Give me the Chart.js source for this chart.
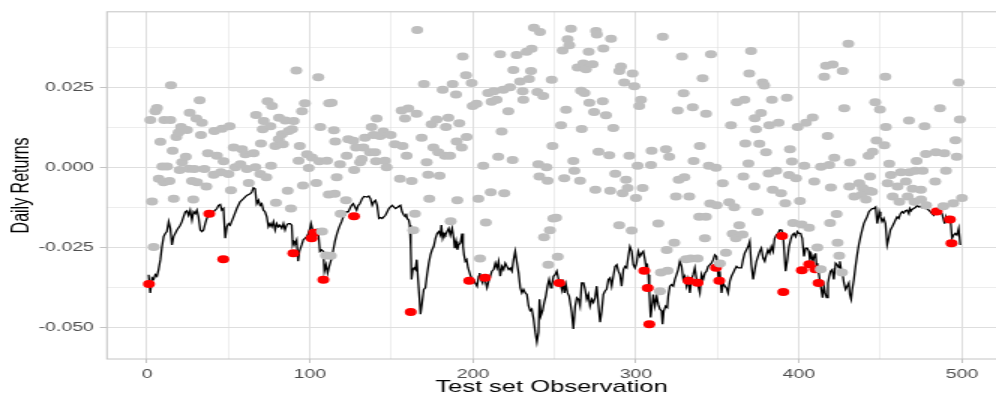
<!DOCTYPE html>
<html>
<head>
<meta charset="utf-8">
<script src="https://cdn.jsdelivr.net/npm/chart.js@4.4.1/dist/chart.umd.min.js"></script>
<style>
  html, body { margin: 0; padding: 0; background: #fff; overflow: hidden; }
</style>
</head>
<body>
<!-- drawn at 664 wide and stretched to 996, like the reference picture -->
<canvas id="chart" width="664" height="399" style="display:block;width:996px;height:399px"></canvas>
<script>
// daily returns that stayed above the VaR line (grey)
const returnObs = [
  2.0, 3.1, 4.1, 5.1, 6.1, 7.2, 8.2, 9.4, 10.2, 10.6, 12.3, 13.8, 14.3, 14.7, 15.7, 16.4, 18.0, 19.4, 20.0, 20.9,
  21.5, 23.8, 24.5, 25.6, 26.2, 27.6, 28.4, 29.0, 30.3, 30.7, 32.3, 33.1, 33.7, 35.2, 36.4, 37.4, 40.9, 41.3, 42.9, 45.3,
  46.0, 47.0, 50.0, 50.7, 51.5, 53.2, 54.2, 57.3, 58.3, 60.3, 61.3, 62.4, 65.4, 66.5, 66.9, 69.5, 69.9, 71.0, 71.6, 73.2,
  74.0, 75.7, 76.1, 76.7, 78.7, 79.1, 80.8, 81.0, 82.8, 83.4, 84.9, 86.3, 86.9, 88.3, 89.0, 90.0, 91.6, 93.0, 93.7, 95.1,
  95.7, 96.9, 98.2, 99.2, 101.2, 103.9, 105.1, 105.7, 106.3, 107.4, 109.8, 110.4, 111.5, 111.7,
  112.8, 113.3, 114.7, 115.2, 115.5, 116.4, 118.4, 118.8, 122.1, 122.5, 123.5, 126.6, 127.1, 128.2, 130.7, 131.8, 132.7, 133.7, 136.8, 137.8,
  138.9, 139.9, 140.5, 140.9, 143.0, 145.0, 146.0, 147.0, 149.5, 152.1, 155.2, 156.2, 156.8, 158.3, 159.3, 160.3, 162.4, 163.4, 164.4, 165.4,
  165.8, 168.5, 169.9, 171.6, 172.5, 173.2, 174.6, 175.7, 177.7, 178.7, 179.5, 181.4, 182.8, 183.4, 184.9, 185.9, 186.3, 187.5, 189.6, 190.0,
  190.4, 191.6, 193.1, 193.7, 195.7, 196.1, 199.2, 199.8, 202.2, 203.3, 204.3, 206.3, 207.9, 209.3, 210.9, 211.4, 212.8, 214.5, 215.5, 216.6,
  217.6, 218.6, 219.2, 221.7, 222.7, 224.3, 224.8, 226.8, 228.9, 230.5, 230.9, 232.9, 234.4, 235.6, 236.0, 237.4, 239.5, 240.1, 240.7, 241.1,
  243.1, 243.6, 245.1, 245.8, 246.2, 247.2, 248.3, 248.8, 249.3,
  251.0, 252.0, 254.0, 255.0, 256.0, 257.1, 258.1, 259.1, 260.1, 261.6, 262.2, 264.2, 265.7, 266.3, 266.7, 267.7, 268.4, 269.3, 271.0, 271.4,
  273.4, 274.3, 275.1, 275.5, 276.0, 277.0, 279.6, 280.0, 281.6, 283.6, 284.2, 284.7, 286.1, 287.3, 289.7, 289.8, 290.8, 291.8, 292.8, 293.9,
  294.9, 295.9, 297.4, 297.9, 299.0, 300.0, 301.0, 302.0, 303.1, 304.1, 309.2, 309.6, 313.7, 314.7, 315.3, 316.4, 318.4, 318.9, 319.4, 320.4,
  323.5, 324.5, 325.6, 326.2, 328.2, 329.2, 329.7, 330.7, 332.7, 333.7, 334.8, 335.4, 337.8, 338.8, 339.2, 340.9, 342.3, 342.9, 343.0, 344.7,
  345.5, 346.0, 349.1, 349.5, 351.5, 353.2, 355.2, 357.2, 358.3, 359.3, 360.3, 361.3, 361.8, 363.4, 365.4, 365.9, 366.5, 367.1, 369.0, 369.5,
  370.6, 372.6, 372.9, 373.6, 374.6, 375.7, 376.7, 377.7, 378.7, 379.8, 381.4, 381.8, 383.4, 383.9, 386.1, 387.5, 389.0, 391.6, 392.6, 393.9,
  394.5, 395.7, 396.4, 398.2, 399.2, 400.6, 401.7, 403.3, 404.3, 406.2, 408.4, 409.4, 411.3, 413.4, 413.5, 415.5, 416.6, 417.6, 418.6, 419.1,
  419.6, 420.7, 421.7, 423.1, 423.7, 424.7, 426.4, 426.8, 427.8, 430.3, 430.9, 431.3, 433.9, 437.0, 438.6, 439.1, 441.1, 442.7, 443.1, 443.6,
  444.8, 445.2, 446.8, 447.6, 449.7, 452.4, 453.0, 453.3, 454.4, 455.4, 456.4, 457.5, 460.5, 461.6, 462.6, 465.6, 466.7, 467.5, 467.7, 469.7,
  470.8, 471.5, 472.2, 474.8, 474.9, 475.9, 477.1, 477.9, 478.0, 483.6, 484.0, 486.5, 488.6, 489.2, 490.2, 494.7, 496.0, 496.8, 498.0, 498.7,
  500.0
];
const returnVal = [
  0.0149, -0.0106, -0.0248, 0.0177, 0.0187, -0.0035, 0.0081, 0.0004, -0.0046, 0.0149, 0.0004, -0.0042, 0.0149, 0.0258, 0.0053, -0.0097, 0.0096, 0.0110, -0.0007, 0.0127,
  0.0017, 0.0034, 0.0118, -0.0003, 0.0172, -0.0042, -0.0100, -0.0004, 0.0154, -0.0046, 0.0211, 0.0102, 0.0141, -0.0004, -0.0059, 0.0045, -0.0022, 0.0115, 0.0037, -0.0014,
  0.0122, 0.0020, -0.0020, 0.0130, -0.0071, 0.0063, 0.0001, 0.0011, 0.0058, 0.0042, -0.0004, -0.0048, 0.0045, 0.0001, 0.0165, -0.0020, 0.0076, 0.0120, 0.0146, -0.0030,
  0.0208, 0.0130, 0.0006, 0.0193, 0.0068, -0.0110, 0.0089, 0.0156, 0.0105, 0.0073, 0.0148, -0.0072, 0.0115, -0.0128, 0.0120, 0.0146, 0.0304, 0.0022, 0.0068, 0.0177,
  -0.0056, 0.0202, 0.0042, -0.0001, 0.0032, -0.0048, 0.0283, 0.0020, 0.0127, -0.0200, -0.0275, 0.0022, -0.0084, 0.0202,
  -0.0276, 0.0203, 0.0117, -0.0082, 0.0082, -0.0030, 0.0011, -0.0144, -0.0102, 0.0037, 0.0089, 0.0084, -0.0007, 0.0063, 0.0017, 0.0027, 0.0063, 0.0094, 0.0048, 0.0127,
  0.0102, 0.0048, 0.0020, 0.0154, 0.0099, 0.0113, 0.0022, 0.0001, 0.0102, 0.0073, -0.0035, 0.0179, 0.0068, 0.0154, 0.0037, 0.0185, -0.0042, -0.0196, -0.0144, 0.0169,
  0.0431, 0.0094, 0.0262, 0.0017, -0.0022, -0.0097, 0.0136, 0.0063, 0.0151, 0.0048, -0.0025, 0.0244, 0.0037, 0.0127, 0.0156, 0.0037, -0.0168, 0.0262, 0.0229, 0.0082,
  -0.0102, 0.0139, 0.0063, 0.0348, 0.0289, 0.0096, 0.0265, 0.0193, 0.0200, -0.0097, -0.0284, 0.0006, -0.0172, 0.0234, -0.0077, 0.0206, 0.0239, 0.0213, 0.0034, 0.0355,
  0.0113, 0.0244, -0.0080, 0.0177, 0.0252, 0.0024, 0.0306, 0.0353, 0.0270, 0.0239, 0.0213, 0.0363, 0.0278, 0.0303, 0.0372, 0.0438, 0.0237, 0.0011, -0.0028, 0.0425,
  0.0224, -0.0218, 0.0001, -0.0041, -0.0304, -0.0196, 0.0275, 0.0068, -0.0159,
  -0.0157, -0.0279, 0.0133, 0.0367, -0.0033, 0.0181, 0.0402, 0.0383, 0.0435, 0.0021, -0.0010, 0.0314, -0.0041, 0.0241, 0.0121, 0.0326, 0.0234, 0.0308, 0.0363, 0.0203,
  0.0324, 0.0174, -0.0069, 0.0428, 0.0417, 0.0050, 0.0208, 0.0373, 0.0164, 0.0039, -0.0072, 0.0404, 0.0124, -0.0019, -0.0180, 0.0303, 0.0317, -0.0080, 0.0267, -0.0038,
  -0.0064, 0.0037, -0.0197, 0.0295, 0.0255, -0.0095, 0.0006, 0.0193, 0.0213, -0.0064, 0.0008, 0.0053, -0.0175, -0.0387, -0.0328, 0.0410, 0.0058, -0.0258, -0.0323, 0.0034,
  -0.0235, -0.0090, 0.0179, -0.0038, 0.0348, 0.0233, -0.0030, -0.0287, -0.0090, -0.0284, 0.0189, 0.0021, -0.0284, -0.0154, 0.0068, 0.0280, -0.0221, -0.0154, 0.0169, 0.0006,
  -0.0112, 0.0355, 0.0000, -0.0118, -0.0300, -0.0049, -0.0266, -0.0108, 0.0133, -0.0207, -0.0124, -0.0221, 0.0205, -0.0180, -0.0209, -0.0028, 0.0213, 0.0076, 0.0013, 0.0295,
  0.0365, -0.0059, 0.0155, 0.0120, -0.0139, 0.0075, 0.0171, 0.0267, 0.0257, 0.0048, -0.0018, 0.0133, 0.0213, -0.0069, -0.0010, 0.0141, -0.0080, -0.0111, 0.0219, -0.0023,
  0.0058, 0.0019, -0.0173, -0.0033, 0.0127, -0.0104, -0.0178, 0.0006, 0.0141, -0.0188, 0.0157, -0.0043, -0.0250, -0.0318, 0.0003, 0.0285, 0.0319, 0.0099, 0.0008, -0.0173,
  -0.0062, 0.0323, 0.0031, -0.0145, -0.0235, -0.0276, -0.0328, 0.0303, 0.0186, 0.0388, -0.0059, 0.0016, -0.0090, -0.0049, -0.0085, -0.0064, -0.0100, 0.0037, -0.0072, -0.0028,
  -0.0075, 0.0050, 0.0205, 0.0085, 0.0182, 0.0070, 0.0285, 0.0127, -0.0049, 0.0012, -0.0023, -0.0090, -0.0059, -0.0107, -0.0014, -0.0043, -0.0090, 0.0148, -0.0014, -0.0066,
  -0.0107, -0.0010, 0.0021, -0.0069, -0.0100, -0.0010, 0.0130, 0.0043, -0.0118, -0.0043, 0.0048, 0.0186, -0.0121, 0.0045, -0.0010, -0.0111, 0.0086, 0.0034, 0.0267, 0.0151,
  -0.0095
];

// days where the return fell below the VaR estimate (red)
const breachObs = [1.2, 38.2, 46.8, 89.8, 101.0, 102.5, 108.2, 127.0, 161.8, 197.7, 207.4, 253.0, 305.1, 307.2,
  308.2, 332.3, 337.8, 349.1, 351.1, 389.6, 390.4, 401.8, 406.3, 410.0, 412.0, 484.5, 492.6, 493.6];
const breachVal = [-0.0364, -0.0144, -0.0287, -0.0268, -0.0221, -0.0204, -0.0351, -0.0152, -0.0452, -0.0354, -0.0345, -0.0361, -0.0323, -0.0377,
  -0.0490, -0.0354, -0.0360, -0.0313, -0.0354, -0.0214, -0.0389, -0.0321, -0.0302, -0.0318, -0.0361, -0.0137, -0.0162, -0.0237];

// VaR estimate (black line)
const lineObs = [
  1, 2, 3.1, 4.1, 5.1, 6.1, 7.1, 8.2, 9.2, 10.2, 11.2, 12.2, 13.3, 14.3, 15.3, 16.3, 18.4, 20.4, 21.4, 22.4,
  23.5, 24.5, 25.5, 26.5, 27.6, 28.6, 29.6, 30.6, 31.6, 32.7, 33.7, 34.7, 35.7, 36.7, 37.8, 38.8, 40.8, 42.9, 43.9, 44.9,
  45.9, 46.9, 48.0, 49.0, 50.0, 51.0, 53.1, 55.1, 57.1, 59.2, 61.2, 63.3, 64.3, 65.3, 66.3, 67.3, 68.4, 69.4, 70.4, 71.4,
  72.4, 73.5, 74.5, 75.5, 76.5, 77.6, 78.6, 79.6, 80.6, 81.6, 82.7, 83.7, 84.7, 85.7, 86.7, 87.8, 88.8, 89.4, 90.2, 91.0,
  91.8, 92.7, 93.5, 94.9, 95.9, 96.9, 98.0, 99.0, 100.0, 100.6, 101.6, 103.1, 104.1, 105.1, 106.1, 107.1, 108.2, 108.8, 109.8, 110.8,
  111.8, 113.3, 114.3, 115.3, 116.3, 117.3, 118.4, 119.4, 120.4, 121.4, 122.4, 123.5, 124.5, 125.5, 126.5, 127.6, 128.6, 129.6, 130.6, 132.0,
  133.1, 135.1, 136.1, 137.1, 138.2, 139.2, 140.2, 141.2, 142.3, 143.3, 144.3, 146.3, 147.4, 148.4, 149.4, 150.4, 151.4, 152.5, 153.5, 154.5,
  155.5, 156.5, 157.6, 158.6, 159.0, 159.6, 160.6, 161.2, 161.8, 162.3, 163.1, 163.9, 164.7, 165.5, 166.3, 167.2, 167.8, 168.8, 169.8, 170.8,
  171.8, 172.9, 173.9, 174.9, 175.9, 177.0, 178.0, 179.0, 180.0, 180.6, 181.4, 182.3, 183.1, 184.1, 185.1, 186.1, 187.2, 188.2, 188.8, 189.6,
  190.4, 191.2, 192.3, 193.3, 193.9, 194.5, 195.3, 196.1, 197.0, 197.8, 198.6, 199.4, 200.4, 201.4, 202.5, 203.5, 204.1, 204.9, 205.9, 206.5,
  207.6, 208.6, 209.6, 210.6, 211.6, 212.7, 213.7, 214.7, 215.7, 216.7, 217.8, 218.8, 219.8, 220.8, 221.9, 222.9, 223.9, 224.9, 225.9, 227.0,
  228.0, 229.0, 230.0, 231.0, 232.1, 233.1, 234.1, 235.1, 236.1, 237.2, 238.2, 239.2, 240.2, 240.8, 241.6, 242.7, 243.7, 244.7, 245.7, 246.7,
  247.8, 248.4, 249.4, 250.4, 251.4, 252.5, 253.5, 254.5, 255.1, 256.1, 257.0, 258.0, 259.0, 260.6, 261.6, 262.7, 263.7, 264.7, 265.7, 266.7,
  267.8, 268.8, 269.8, 270.8, 271.8, 272.9, 273.9, 274.9, 275.9, 276.9, 278.0, 279.0, 280.0, 281.0, 282.0, 283.1, 284.1, 285.1, 286.1, 287.2,
  288.2, 289.2, 290.2, 291.2, 292.3, 293.3, 294.3, 295.3, 296.3, 297.4, 298.4, 299.4, 300.4, 301.4, 302.5, 303.5, 304.5, 305.5, 306.1, 306.9,
  307.6, 308.2, 309.0, 309.8, 310.6, 311.6, 312.7, 313.7, 314.7, 315.7, 316.3, 317.1, 318.2, 319.2, 319.8, 320.8, 321.8, 322.9, 323.9, 324.9,
  325.9, 326.9, 328.0, 329.0, 330.0, 331.0, 332.0, 333.1, 334.1, 335.1, 336.1, 337.2, 338.2, 339.2, 340.2, 341.2, 342.3, 343.3, 344.3, 345.3,
  346.3, 347.4, 348.4, 349.4, 350.0, 350.8, 351.4, 352.5, 353.5, 354.5, 355.5, 356.5, 357.6, 358.6, 359.6, 360.6, 361.7, 362.7, 363.7, 364.7,
  365.7, 366.7, 367.8, 368.8, 369.8, 370.8, 371.9, 372.9, 373.9, 374.9, 375.9, 376.9, 378.0, 379.0, 380.0, 381.0, 382.0, 383.1, 384.1, 385.1,
  386.1, 387.2, 388.2, 389.2, 390.2, 391.8, 392.9, 393.9, 394.9, 395.9, 396.9, 398.0, 399.0, 400.0, 401.0, 402.0, 403.1, 404.1, 405.1, 406.1,
  406.7, 407.6, 408.6, 409.6, 410.2, 410.8, 411.2, 411.8, 412.9, 413.7, 414.5, 415.3, 416.1, 417.0, 417.8, 418.6, 419.4, 420.4, 421.4, 422.5,
  423.5, 424.5, 425.1, 425.9, 426.7, 427.6, 428.6, 429.6, 430.6, 431.2, 432.0, 432.7, 433.7, 434.7, 435.7, 436.7, 437.8, 438.8, 439.8, 440.8,
  441.8, 442.9, 443.9, 444.9, 445.9, 447.0, 448.0, 448.6, 449.2, 450.0, 451.0, 452.0, 453.1, 454.1, 455.1, 456.1, 457.2, 458.2, 459.2, 460.2,
  461.2, 462.3, 463.3, 464.3, 465.3, 466.3, 467.4, 468.0, 468.8, 469.4, 470.4, 471.4, 472.5, 473.5, 474.5, 475.5, 476.5, 477.6, 478.6, 479.6,
  480.6, 481.6, 482.7, 483.7, 484.7, 485.7, 486.7, 487.8, 488.8, 489.4, 490.2, 490.8, 491.8, 492.9, 493.9, 494.9, 495.9, 496.9, 498.0, 499.0
];
const lineVaR = [
  -0.0335, -0.0392, -0.0345, -0.0350, -0.0335, -0.0340, -0.0319, -0.0288, -0.0247, -0.0216, -0.0206, -0.0200, -0.0169, -0.0190, -0.0242, -0.0216, -0.0195, -0.0180, -0.0169, -0.0154,
  -0.0138, -0.0135, -0.0149, -0.0133, -0.0164, -0.0138, -0.0144, -0.0133, -0.0154, -0.0195, -0.0200, -0.0195, -0.0175, -0.0159, -0.0149, -0.0144, -0.0138, -0.0128, -0.0118, -0.0115,
  -0.0133, -0.0128, -0.0221, -0.0185, -0.0175, -0.0180, -0.0154, -0.0128, -0.0107, -0.0097, -0.0087, -0.0082, -0.0076, -0.0063, -0.0066, -0.0113, -0.0102, -0.0118, -0.0113, -0.0133,
  -0.0138, -0.0154, -0.0185, -0.0175, -0.0185, -0.0169, -0.0195, -0.0175, -0.0185, -0.0180, -0.0190, -0.0175, -0.0195, -0.0180, -0.0175, -0.0175, -0.0180, -0.0242, -0.0231, -0.0236,
  -0.0226, -0.0293, -0.0262, -0.0242, -0.0226, -0.0221, -0.0216, -0.0206, -0.0190, -0.0175, -0.0195, -0.0206, -0.0195, -0.0206, -0.0262, -0.0257, -0.0262, -0.0324, -0.0304, -0.0330,
  -0.0309, -0.0283, -0.0257, -0.0231, -0.0211, -0.0195, -0.0180, -0.0169, -0.0154, -0.0149, -0.0138, -0.0138, -0.0128, -0.0118, -0.0113, -0.0123, -0.0133, -0.0118, -0.0113, -0.0097,
  -0.0090, -0.0092, -0.0089, -0.0097, -0.0118, -0.0107, -0.0102, -0.0118, -0.0159, -0.0156, -0.0159, -0.0149, -0.0138, -0.0128, -0.0123, -0.0118, -0.0123, -0.0128, -0.0125, -0.0121,
  -0.0118, -0.0138, -0.0149, -0.0154, -0.0144, -0.0159, -0.0164, -0.0180, -0.0247, -0.0350, -0.0319, -0.0314, -0.0319, -0.0288, -0.0350, -0.0412, -0.0459, -0.0422, -0.0381, -0.0376,
  -0.0335, -0.0299, -0.0273, -0.0257, -0.0247, -0.0221, -0.0206, -0.0200, -0.0211, -0.0180, -0.0221, -0.0206, -0.0211, -0.0200, -0.0190, -0.0211, -0.0190, -0.0221, -0.0252, -0.0231,
  -0.0257, -0.0242, -0.0236, -0.0206, -0.0247, -0.0273, -0.0293, -0.0288, -0.0314, -0.0314, -0.0340, -0.0345, -0.0350, -0.0361, -0.0371, -0.0340, -0.0330, -0.0350, -0.0361, -0.0345,
  -0.0355, -0.0376, -0.0355, -0.0340, -0.0324, -0.0319, -0.0299, -0.0314, -0.0293, -0.0340, -0.0309, -0.0319, -0.0299, -0.0309, -0.0319, -0.0314, -0.0324, -0.0288, -0.0262, -0.0299,
  -0.0330, -0.0376, -0.0392, -0.0381, -0.0392, -0.0397, -0.0433, -0.0448, -0.0443, -0.0474, -0.0515, -0.0546, -0.0515, -0.0412, -0.0464, -0.0448, -0.0422, -0.0402, -0.0371, -0.0350,
  -0.0376, -0.0366, -0.0340, -0.0335, -0.0324, -0.0350, -0.0361, -0.0381, -0.0350, -0.0392, -0.0366, -0.0392, -0.0402, -0.0453, -0.0505, -0.0433, -0.0407, -0.0412, -0.0433, -0.0361,
  -0.0361, -0.0381, -0.0412, -0.0397, -0.0433, -0.0412, -0.0422, -0.0407, -0.0371, -0.0428, -0.0484, -0.0448, -0.0397, -0.0386, -0.0381, -0.0350, -0.0345, -0.0371, -0.0340, -0.0309,
  -0.0304, -0.0324, -0.0335, -0.0371, -0.0319, -0.0309, -0.0314, -0.0278, -0.0247, -0.0262, -0.0304, -0.0314, -0.0299, -0.0262, -0.0278, -0.0268, -0.0262, -0.0288, -0.0309, -0.0304,
  -0.0335, -0.0392, -0.0469, -0.0433, -0.0397, -0.0433, -0.0402, -0.0428, -0.0443, -0.0448, -0.0490, -0.0448, -0.0433, -0.0438, -0.0402, -0.0371, -0.0366, -0.0371, -0.0350, -0.0335,
  -0.0319, -0.0293, -0.0309, -0.0350, -0.0340, -0.0371, -0.0350, -0.0392, -0.0350, -0.0335, -0.0314, -0.0350, -0.0371, -0.0392, -0.0335, -0.0350, -0.0330, -0.0324, -0.0309, -0.0304,
  -0.0299, -0.0288, -0.0273, -0.0278, -0.0309, -0.0361, -0.0324, -0.0392, -0.0361, -0.0371, -0.0376, -0.0392, -0.0355, -0.0340, -0.0330, -0.0319, -0.0309, -0.0314, -0.0314, -0.0314,
  -0.0288, -0.0268, -0.0257, -0.0247, -0.0231, -0.0304, -0.0350, -0.0319, -0.0293, -0.0278, -0.0262, -0.0252, -0.0283, -0.0293, -0.0273, -0.0257, -0.0268, -0.0247, -0.0262, -0.0221,
  -0.0211, -0.0206, -0.0195, -0.0195, -0.0206, -0.0324, -0.0288, -0.0247, -0.0226, -0.0211, -0.0206, -0.0216, -0.0200, -0.0206, -0.0206, -0.0221, -0.0278, -0.0252, -0.0252, -0.0262,
  -0.0288, -0.0273, -0.0293, -0.0273, -0.0268, -0.0309, -0.0299, -0.0319, -0.0355, -0.0381, -0.0407, -0.0371, -0.0392, -0.0407, -0.0361, -0.0340, -0.0324, -0.0319, -0.0350, -0.0299,
  -0.0304, -0.0314, -0.0293, -0.0319, -0.0330, -0.0361, -0.0381, -0.0371, -0.0361, -0.0397, -0.0412, -0.0381, -0.0350, -0.0309, -0.0273, -0.0242, -0.0216, -0.0195, -0.0175, -0.0164,
  -0.0154, -0.0138, -0.0133, -0.0128, -0.0128, -0.0123, -0.0175, -0.0159, -0.0138, -0.0154, -0.0169, -0.0159, -0.0175, -0.0242, -0.0221, -0.0195, -0.0185, -0.0175, -0.0164, -0.0154,
  -0.0159, -0.0144, -0.0138, -0.0142, -0.0135, -0.0133, -0.0144, -0.0128, -0.0135, -0.0131, -0.0128, -0.0125, -0.0118, -0.0123, -0.0121, -0.0125, -0.0123, -0.0128, -0.0128, -0.0133,
  -0.0138, -0.0144, -0.0149, -0.0138, -0.0144, -0.0133, -0.0138, -0.0144, -0.0164, -0.0175, -0.0154, -0.0164, -0.0154, -0.0159, -0.0221, -0.0211, -0.0206, -0.0211, -0.0190, -0.0242
];

// axes
const xGridValues = [0, 50, 100, 150, 200, 250, 300, 350, 400, 450, 500];
const xTickValues = [0, 100, 200, 300, 400, 500];
const xTickLabels = ["0", "100", "200", "300", "400", "500"];
const yGridValues = [-0.05, -0.0375, -0.025, -0.0125, 0, 0.0125, 0.025, 0.0375];
const yTickValues = [-0.05, -0.025, 0, 0.025];
const yTickLabels = ["-0.050", "-0.025", "0.000", "0.025"];

const toPoints = (xs, ys) => xs.map((x, i) => ({ x: x, y: ys[i] }));

const FONT = "'Liberation Sans', Arial, sans-serif";
const GRID = "#dedede";
const EDGE = "#c4c4c4";

const isMajor = (vals, v) => vals.some(m => Math.abs(m - v) < 1e-9);

// ggplot-style panel frame
const panelBorder = {
  id: "panelBorder",
  afterDraw(chart) {
    const { ctx, chartArea: a } = chart;
    ctx.save();
    ctx.strokeStyle = EDGE;
    ctx.lineWidth = 1;
    ctx.strokeRect(a.left, a.top, a.right - a.left + 10, a.bottom - a.top);
    ctx.restore();
  }
};

new Chart(document.getElementById("chart"), {
  type: "scatter",
  data: {
    datasets: [
      {
        data: toPoints(returnObs, returnVal),
        backgroundColor: "#bebebe",
        borderWidth: 0,
        pointRadius: 4,
        pointHoverRadius: 4,
      },
      {
        data: toPoints(breachObs, breachVal),
        backgroundColor: "#ff0000",
        borderWidth: 0,
        pointRadius: 4,
        pointHoverRadius: 4,
      },
      {
        data: toPoints(lineObs, lineVaR),
        showLine: true,
        borderColor: "#000000",
        borderWidth: 1.3,
        pointRadius: 0,
        tension: 0,
      },
    ],
  },
  options: {
    responsive: false,
    devicePixelRatio: 1,
    animation: false,
    layout: { autoPadding: false, padding: { top: 9, left: 0, right: 0, bottom: 0 } },
    scales: {
      x: {
        type: "linear",
        min: -24.57,
        max: 520.9,
        afterBuildTicks: s => { s.ticks = xGridValues.map(v => ({ value: v })); },
        afterFit: s => { s.height = 40; },
        border: { display: false },
        grid: {
          color: GRID,
          lineWidth: c => (isMajor(xTickValues, c.tick.value) ? 1 : 0.55),
          tickLength: 4,
          tickColor: c => (isMajor(xTickValues, c.tick.value) ? EDGE : "rgba(0,0,0,0)"),
        },
        ticks: {
          autoSkip: false,
          maxRotation: 0,
          padding: 3.5,
          color: "#4d4d4d",
          font: { family: FONT, size: 13 },
          callback: v => {
            const i = xTickValues.findIndex(m => Math.abs(m - v) < 1e-9);
            return i >= 0 ? xTickLabels[i] : "";
          },
        },
        title: {
          display: true,
          text: "Test set Observation",
          color: "#000000",
          font: { family: FONT, size: 17 },
          padding: { top: 0, bottom: 1.5 },
        },
      },
      y: {
        min: -0.0599,
        max: 0.0488,
        afterBuildTicks: s => { s.ticks = yGridValues.map(v => ({ value: v })); },
        afterFit: s => { s.width = 71.3; },
        border: { display: false },
        grid: {
          color: GRID,
          lineWidth: c => (isMajor(yTickValues, c.tick.value) ? 1 : 0.55),
          tickLength: 4.7,
          tickColor: c => (isMajor(yTickValues, c.tick.value) ? EDGE : "rgba(0,0,0,0)"),
        },
        ticks: {
          autoSkip: false,
          padding: 4,
          color: "#4d4d4d",
          font: { family: FONT, size: 13 },
          callback: v => {
            const i = yTickValues.findIndex(m => Math.abs(m - v) < 1e-9);
            return i >= 0 ? yTickLabels[i] : "";
          },
        },
        title: {
          display: true,
          text: "Daily Returns",
          color: "#000000",
          font: { family: FONT, size: 16 },
          padding: { top: 5, bottom: 0 },
        },
      },
    },
    plugins: {
      legend: { display: false },
      tooltip: { enabled: false },
    },
  },
  plugins: [panelBorder],
});
</script>
</body>
</html>
